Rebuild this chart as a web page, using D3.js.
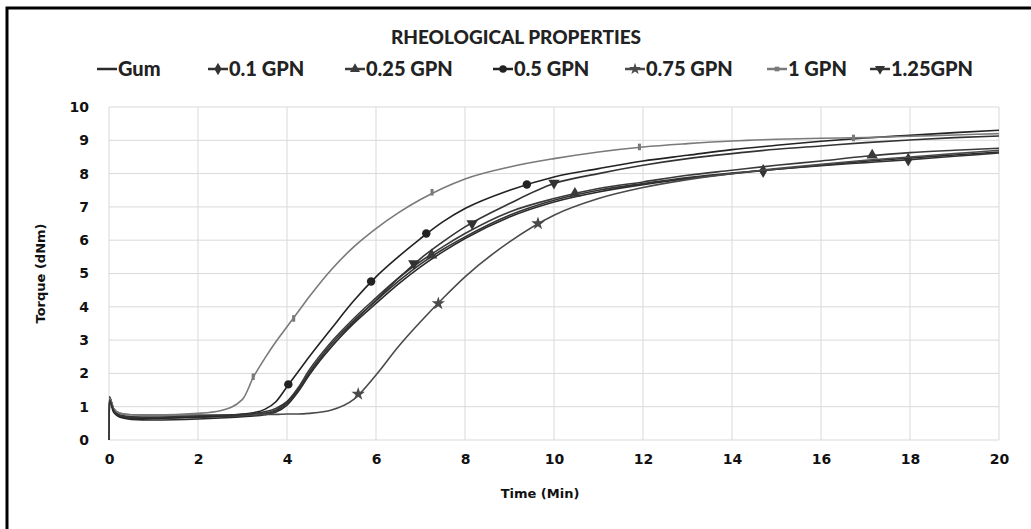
<!doctype html>
<html lang='en'>
<head>
<meta charset='UTF-8'>
<title>Rheological properties</title>
<style>
  body { margin: 0; background: #fff; }
  .tick text { font-family: 'DejaVu Sans', sans-serif; font-weight: bold; font-size: 14px; fill: #111; }
  .axis-title { font-family: 'DejaVu Sans', sans-serif; font-weight: bold; font-size: 13px; fill: #111; }
  .title { font-family: Lato, sans-serif; font-weight: 900; font-size: 19px; fill: #222; }
  .legend text { font-family: Lato, sans-serif; font-weight: 900; font-size: 20px; fill: #222; }
</style>
</head>
<body>
<script src='https://d3js.org/d3.v7.min.js'></script>
<script>
  // sample times (min) shared by every series
  const times = [0, 0.01, 0.1, 0.25, 0.5, 1, 2, 2.5, 3, 3.25, 3.5, 3.75, 4, 4.25, 4.5, 5, 5.5, 6, 6.5, 7, 7.5, 8, 9, 10, 11, 12, 13, 14, 15, 16, 17, 18, 19, 20]

  const gum     = [0, 1.3, 0.9, 0.68, 0.62, 0.6, 0.63, 0.66, 0.7, 0.72, 0.76, 0.84, 1.05, 1.45, 1.95, 2.8, 3.5, 4.1, 4.68, 5.2, 5.65, 6.05, 6.7, 7.15, 7.45, 7.67, 7.85, 8.0, 8.13, 8.25, 8.37, 8.47, 8.56, 8.65]
  const gpn01   = [0, 1.25, 0.95, 0.75, 0.7, 0.68, 0.7, 0.72, 0.75, 0.77, 0.8, 0.88, 1.1, 1.5, 2.02, 2.88, 3.58, 4.18, 4.76, 5.28, 5.72, 6.1, 6.75, 7.2, 7.5, 7.7, 7.88, 8.02, 8.13, 8.24, 8.33, 8.42, 8.52, 8.62]
  const gpn025  = [0, 1.2, 0.9, 0.72, 0.66, 0.65, 0.68, 0.7, 0.73, 0.75, 0.8, 0.9, 1.15, 1.57, 2.1, 2.95, 3.65, 4.27, 4.86, 5.36, 5.8, 6.2, 6.85, 7.25, 7.55, 7.75, 7.95, 8.1, 8.25, 8.38, 8.52, 8.63, 8.7, 8.76]
  const gpn05   = [0, 1.2, 0.85, 0.7, 0.66, 0.66, 0.7, 0.73, 0.78, 0.82, 0.92, 1.15, 1.6, 2.05, 2.5, 3.35, 4.18, 4.9, 5.5, 6.05, 6.55, 6.95, 7.5, 7.9, 8.15, 8.38, 8.55, 8.72, 8.85, 8.97, 9.07, 9.15, 9.23, 9.3]
  const gpn075  = [0, 1.3, 0.95, 0.8, 0.76, 0.75, 0.75, 0.75, 0.76, 0.76, 0.77, 0.77, 0.78, 0.78, 0.8, 0.9, 1.22, 1.95, 2.8, 3.55, 4.25, 4.9, 5.95, 6.75, 7.25, 7.58, 7.82, 8.0, 8.15, 8.28, 8.4, 8.5, 8.6, 8.7]
  const gpn1    = [0, 1.25, 0.95, 0.8, 0.76, 0.75, 0.8, 0.88, 1.22, 1.9, 2.45, 2.95, 3.4, 3.85, 4.3, 5.12, 5.8, 6.35, 6.82, 7.22, 7.56, 7.84, 8.2, 8.45, 8.65, 8.8, 8.9, 8.98, 9.03, 9.06, 9.08, 9.12, 9.16, 9.2]
  const gpn125  = [0, 1.2, 0.9, 0.72, 0.68, 0.68, 0.72, 0.74, 0.77, 0.8, 0.85, 0.95, 1.15, 1.5, 2.0, 2.8, 3.55, 4.2, 4.85, 5.45, 5.95, 6.4, 7.1, 7.7, 8.0, 8.25, 8.45, 8.6, 8.73, 8.83, 8.93, 9.01, 9.08, 9.13]

  // marker points [time, torque]
  const mk01  = [[14.7, 8.08], [17.96, 8.42]]
  const mk025 = [[7.25, 5.55], [10.47, 7.4], [17.15, 8.55]]
  const mk05  = [[4.03, 1.67], [5.89, 4.76], [7.13, 6.2], [9.39, 7.67]]
  const mk075 = [[5.6, 1.38], [7.4, 4.1], [9.64, 6.5]]
  const mk1   = [[3.24, 1.9], [4.15, 3.65], [7.26, 7.44], [11.92, 8.8], [16.73, 9.07]]
  const mk125 = [[6.85, 5.3], [8.16, 6.5], [10.0, 7.72]]

  const names = ['Gum', '0.1 GPN', '0.25 GPN', '0.5 GPN', '0.75 GPN', '1 GPN', '1.25GPN']
  const xTicks = d3.range(0, 21, 2)
  const yTicks = d3.range(0, 11, 1)

  const series = [
    { name: names[0], values: gum, marks: [], symbol: null, color: '#2a2a2a' },
    { name: names[1], values: gpn01, marks: mk01, symbol: d3.symbolDiamond, color: '#333' },
    { name: names[2], values: gpn025, marks: mk025, symbol: d3.symbolTriangle, color: '#3a3a3a' },
    { name: names[3], values: gpn05, marks: mk05, symbol: d3.symbolCircle, color: '#222' },
    { name: names[4], values: gpn075, marks: mk075, symbol: d3.symbolStar, color: '#4a4a4a' },
    { name: names[5], values: gpn1, marks: mk1, symbol: d3.symbolSquare, color: '#7a7a7a' },
    { name: names[6], values: gpn125, marks: mk125, symbol: 'down', color: '#333' }
  ]

  const W = 1031, H = 529
  const margin = { top: 107, right: 32, bottom: 89, left: 109 }
  const w = W - margin.left - margin.right
  const h = H - margin.top - margin.bottom

  const svg = d3.select('body').append('svg')
    .attr('width', W)
    .attr('height', H)

  // frame
  svg.append('path')
    .attr('d', 'M7,529 L7,8 L1031,8')
    .attr('fill', 'none')
    .attr('stroke', '#000')
    .attr('stroke-width', 3)

  const g = svg.append('g')
    .attr('transform', `translate(${margin.left},${margin.top})`)

  const x = d3.scaleLinear().domain([0, 20]).range([0, w])
  const y = d3.scaleLinear().domain([0, 10]).range([h, 0])

  // grid
  g.append('g').selectAll('line')
    .data(yTicks)
    .enter().append('line')
    .attr('x1', 0).attr('x2', w)
    .attr('y1', d => y(d)).attr('y2', d => y(d))
    .attr('stroke', '#d9d9d9')
  g.append('g').selectAll('line')
    .data(xTicks)
    .enter().append('line')
    .attr('y1', 0).attr('y2', h)
    .attr('x1', d => x(d)).attr('x2', d => x(d))
    .attr('stroke', '#d9d9d9')

  //// Axis ////
  const xAxis = g.append('g')
    .attr('transform', `translate(0,${h})`)
    .call(d3.axisBottom(x).tickValues(xTicks).tickSize(0).tickPadding(14))
  xAxis.select('.domain').remove()

  const yAxis = g.append('g')
    .call(d3.axisLeft(y).tickValues(yTicks).tickSize(0).tickPadding(20))
  yAxis.select('.domain').remove()

  g.append('text')
    .attr('class', 'axis-title')
    .attr('x', w / 2 - 14)
    .attr('y', h + 58)
    .attr('text-anchor', 'middle')
    .text('Time (Min)')

  g.append('text')
    .attr('class', 'axis-title')
    .attr('transform', `translate(-64,${h / 2}) rotate(-90)`)
    .attr('text-anchor', 'middle')
    .text('Torque (dNm)')

  const line = d3.line()
    .x((d, i) => x(times[i]))
    .y(d => y(d))
    .curve(d3.curveMonotoneX)

  const symbolPath = (s, size) => {
    if (s === 'down') return d3.symbol(d3.symbolTriangle, size)()
    return d3.symbol(s, size)()
  }

  series.forEach(s => {
    g.append('path')
      .attr('d', line(s.values))
      .attr('fill', 'none')
      .attr('stroke', s.color)
      .attr('stroke-width', 1.6)

    g.selectAll(null)
      .data(s.marks)
      .enter().append('path')
      .attr('d', symbolPath(s.symbol, s.symbol === d3.symbolSquare ? 26 : 56))
      .attr('transform', d => `translate(${x(d[0])},${y(d[1])})` + (s.symbol === 'down' ? ' rotate(180)' : '') + (s.symbol === d3.symbolSquare ? ' scale(0.6,1.3)' : ''))
      .attr('fill', s.color)
  })

  // title
  svg.append('text')
    .attr('class', 'title')
    .attr('x', 516)
    .attr('y', 44)
    .attr('text-anchor', 'middle')
    .text('RHEOLOGICAL PROPERTIES')

  // legend, item start positions
  const legendX = [97, 208, 345, 493, 625, 767, 870]
  const legend = svg.append('g').attr('class', 'legend')
  series.forEach((s, i) => {
    const item = legend.append('g').attr('transform', `translate(${legendX[i]},69)`)
    item.append('line')
      .attr('x1', 0).attr('x2', 20)
      .attr('stroke', s.color).attr('stroke-width', 2.5)
    if (s.symbol) {
      item.append('path')
        .attr('d', symbolPath(s.symbol, s.symbol === d3.symbolSquare ? 22 : 44))
        .attr('transform', 'translate(10,0)' + (s.symbol === 'down' ? ' rotate(180)' : ''))
        .attr('fill', s.color)
    }
    item.append('text')
      .attr('x', 21)
      .attr('y', 7)
      .text(s.name)
  })
</script>
</body>
</html>
